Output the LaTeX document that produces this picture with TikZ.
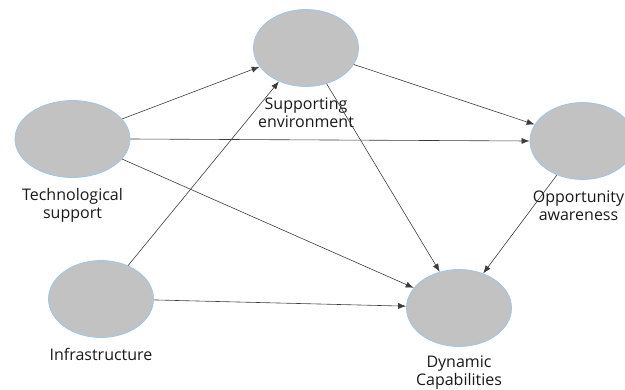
\documentclass[tikz,border=0pt]{standalone}
\usepackage{fontspec}
\setmainfont{Open Sans}
\usetikzlibrary{shapes.geometric, positioning, arrows.meta}
\definecolor{constfill}{HTML}{C2C2C2}
\definecolor{constrim}{HTML}{9DC6EA}
\definecolor{pathline}{HTML}{3C3C3C}
\tikzset{
    construct/.style={ellipse, draw=constrim, fill=constfill, line width=0.8pt,
        minimum width=105pt, minimum height=77pt, inner sep=0pt}, % the latent variables
    caption/.style={align=center, inner sep=0pt, text=black!90,
        font=\fontsize{16}{18}\selectfont}, % text under each ellipse
    path/.style={->, draw=pathline, line width=0.6pt}, % the structural paths
    >={Latex[length=8pt, width=6pt]}, % filled arrow heads
}
\begin{document}
\begin{tikzpicture}[x=1pt, y=-1pt]
\useasboundingbox (0,0) rectangle (625,389);
\node[construct] (sup) at (306,48) {};
\node[construct, minimum width=115pt] (tech) at (72.5,139) {};
\node[construct] (opp) at (582.5,141) {};
\node[construct] (infra) at (101,299) {};
\node[construct] (dyn) at (459,308) {};
\node[caption, below=11pt of sup] (suplbl) {Supporting\\environment};
\node[caption, below=10pt of tech] (techlbl) {Technological\\support};
\node[caption, below=11pt of opp, xshift=-4pt] (opplbl) {Opportunity\\awareness};
\node[caption, below=10pt of infra] (infralbl) {Infrastructure};
\node[caption, below=9pt of dyn] (dynlbl) {Dynamic\\Capabilities};
\draw[path] (tech.22) -- (sup.202);
\draw[path] (tech.0) -- (opp.180);
\draw[path] (tech.338) -- (dyn.156);
\draw[path] (infra.51) -- (sup.231);
\draw[path] (infra.359) -- (dyn.178);
\draw[path] (sup.341) -- (opp.161);
\draw[path] (sup.300) -- (dyn.118);
\draw[path] (opp.233) -- (dyn.55);
\end{tikzpicture}
\end{document}
